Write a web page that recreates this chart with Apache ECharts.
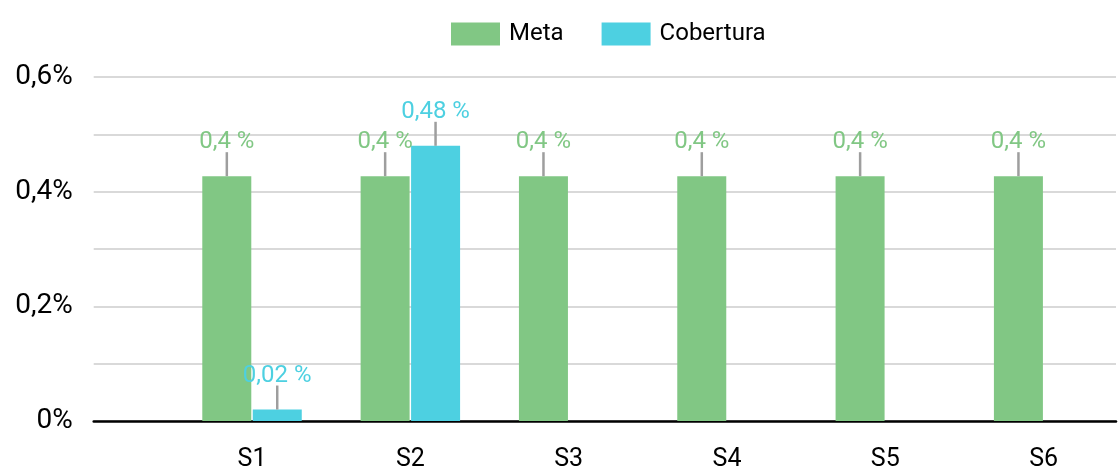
<!DOCTYPE html>
<html>
<head>
<meta charset="utf-8">
<script src="https://cdn.jsdelivr.net/npm/echarts@6/dist/echarts.min.js"></script>
<style>
  html, body { margin: 0; padding: 0; background: #fff; }
  #chart { width: 1119px; height: 476px; }
</style>
</head>
<body>
<div id="chart"></div>
<script>
const categories = ['S1', 'S2', 'S3', 'S4', 'S5', 'S6'];
const metaValues = [0.427, 0.427, 0.427, 0.427, 0.427, 0.427];
const coberturaValues = [0.02, 0.48, null, null, null, null];
const yTicks = [0, 0.1, 0.2, 0.3, 0.4, 0.5, 0.6];

const GREEN = '#81c784';
const CYAN = '#4dd0e1';
const BAR_W = 49;
const SHIFT = 25.2;

const chart = echarts.init(document.getElementById('chart'));

const fmt = (v, dec) => v.toFixed(dec).replace('.', ',') + ' %';

// leader line + value text above each bar
function leader(color, dx, dec) {
  return function (params, api) {
    const x = api.value(0), y = api.value(1);
    if (y == null || isNaN(y)) return;
    const p = api.coord([x, y]);
    const cx = p[0] + dx;
    return {
      type: 'group',
      children: [
        { type: 'line', shape: { x1: cx, y1: p[1], x2: cx, y2: p[1] - 24 },
          style: { stroke: '#9e9e9e', lineWidth: 2.5 } },
        { type: 'text', style: { text: fmt(y, dec), x: cx, y: p[1] - 22,
          textAlign: 'center', textVerticalAlign: 'bottom',
          fill: color, font: '24px Roboto' } }
      ]
    };
  };
}

const metaData = metaValues.map((v, i) => [i + 1, v]);
const cobData = coberturaValues.map((v, i) => [i + 1, v]);

chart.setOption({
  animation: false,
  textStyle: { fontFamily: 'Roboto' },
  legend: {
    data: ['Meta', 'Cobertura'],
    top: 17,
    left: 446,
    itemWidth: 49,
    itemHeight: 23,
    itemGap: 38,
    icon: 'rect',
    textStyle: { fontSize: 24, color: '#000', padding: [0, 0, 0, 4] }
  },
  grid: { left: 93.7, right: 0, top: 77, bottom: 55 },
  xAxis: {
    type: 'value',
    min: 0,
    max: 6.457,
    interval: 1,
    splitLine: { show: false },
    axisTick: { show: false },
    axisLine: { lineStyle: { color: '#000', width: 2.5 } },
    axisLabel: {
      fontSize: 25, color: '#000', margin: 26,
      formatter: v => (Number.isInteger(v) && v >= 1 && v <= categories.length) ? categories[v - 1] : ''
    }
  },
  yAxis: {
    type: 'value',
    min: yTicks[0],
    max: yTicks[yTicks.length - 1],
    interval: 0.1,
    axisLine: { show: false },
    axisTick: { show: false },
    splitLine: { lineStyle: { color: '#cccccc', width: 1.5 } },
    axisLabel: {
      fontSize: 28, color: '#000', margin: 21,
      formatter: v => {
        const r = Math.round(v * 10);
        if (r % 2 !== 0) return '';
        return (r === 0 ? '0' : (r / 10).toFixed(1).replace('.', ',')) + '%';
      }
    }
  },
  series: [
    { name: 'Meta', type: 'bar', data: metaData, barWidth: BAR_W, barGap: '3%',
      itemStyle: { color: GREEN }, silent: true },
    { name: 'Cobertura', type: 'bar', data: cobData, barWidth: BAR_W, barGap: '3%',
      itemStyle: { color: CYAN }, silent: true },
    { type: 'custom', data: metaData, renderItem: leader(GREEN, -SHIFT, 1), silent: true, z: 5 },
    { type: 'custom', data: cobData, renderItem: leader(CYAN, SHIFT, 2), silent: true, z: 5 }
  ]
});
</script>
</body>
</html>
